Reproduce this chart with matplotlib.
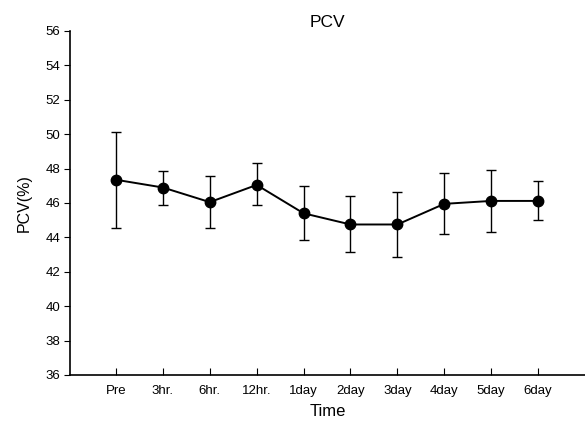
import matplotlib
matplotlib.use("Agg")
import matplotlib.pyplot as plt
import numpy as np

plt.rcParams['font.family'] = ['Liberation Sans', 'DejaVu Sans']

categories = ["Pre", "3hr.", "6hr.", "12hr.", "1day", "2day", "3day", "4day", "5day", "6day"]
means = [47.35, 46.9, 46.05, 47.05, 45.4, 44.75, 44.75, 45.95, 46.12, 46.12]
upper = [50.15, 47.88, 47.55, 48.3, 47.0, 46.38, 46.65, 47.75, 47.9, 47.28]
lower = [44.55, 45.9, 44.55, 45.9, 43.83, 43.17, 42.88, 44.18, 44.33, 45.0]
yticks = list(range(36, 57, 2))

fig = plt.figure(figsize=(5.85, 4.21), dpi=100)
ax = fig.add_axes([0.1197, 0.1093, 0.8803, 0.8171])

x = np.arange(len(categories))
m = np.array(means)
yerr = [m - np.array(lower), np.array(upper) - m]
ax.errorbar(x, m, yerr=yerr, fmt='-o', color='black', ecolor='black',
            elinewidth=1.0, capsize=3.5, capthick=1.0, lw=1.4, ms=7.5)

ax.set_xlim(-0.98, 10.0)
ax.set_ylim(36, 56)
ax.set_xticks(x)
ax.set_xticklabels(categories, fontsize=9.5)
ax.set_yticks(yticks)
ax.set_yticklabels([str(t) for t in yticks], fontsize=9.5)
ax.tick_params(axis='x', direction='in', length=5, pad=7)
ax.tick_params(axis='y', direction='out', length=4, pad=3)
for s in ['top', 'right']:
    ax.spines[s].set_visible(False)
ax.spines['left'].set_linewidth(1.2)
ax.spines['bottom'].set_linewidth(1.2)

ax.set_title("PCV", fontsize=12.5, pad=3)
ax.set_xlabel("Time", fontsize=12, labelpad=5)
ax.set_ylabel("PCV(%)", fontsize=11.5, labelpad=10)

fig.savefig("out.png", dpi=100)
